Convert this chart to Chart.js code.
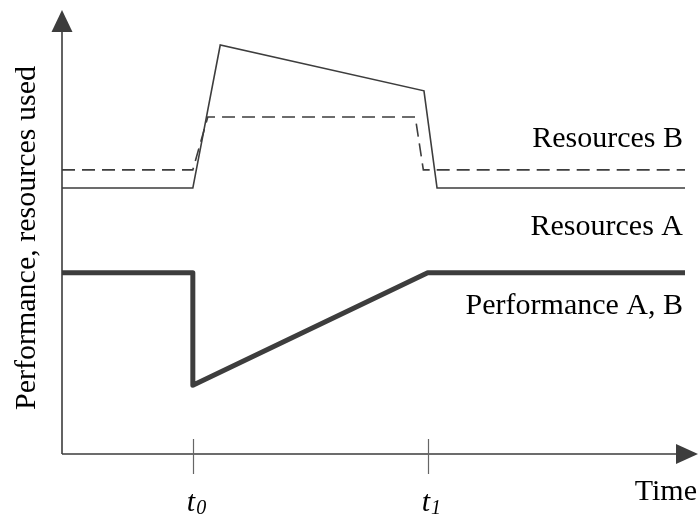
<!DOCTYPE html>
<html>
<head>
<meta charset="utf-8">
<script src="https://cdn.jsdelivr.net/npm/chart.js@4/dist/chart.umd.min.js"></script>
<style>
  html, body { margin: 0; padding: 0; background: #ffffff; }
  canvas { display: block; }
</style>
</head>
<body>
<canvas id="c" width="699" height="518"></canvas>
<script>
// ---- Data (arbitrary time units 0..100, value units 0..100) ----
const t0 = 21.0;
const t1 = 58.7;
const tickValues = [t0, t1];
const tickLabels = ["t", "t"];
const tickSubs = ["0", "1"];

const resA_x = [0, 21.0, 25.4, 58.1, 60.2, 100];
const resA_y = [59.9, 59.9, 92.1, 81.8, 59.9, 59.9];

const resB_x = [0, 21.0, 23.4, 56.7, 58.0, 100];
const resB_y = [64.0, 64.0, 75.9, 75.9, 64.0, 64.0];

const perf_x = [0, 21.0, 21.0, 58.7, 100];
const perf_y = [40.8, 40.8, 15.5, 40.8, 40.8];

const seriesLabels = ["Resources B", "Resources A", "Performance A, B"];
const labelAnchorY = [69.1, 49.3, 31.6]; // value units: baseline of each series caption
const yTitle = "Performance, resources used";
const xTitle = "Time";

const pts = (xs, ys) => xs.map((x, i) => ({ x: x, y: ys[i] }));
const INK = '#3d3d3d';
const FONT = '"Liberation Serif", "Times New Roman", serif';

const decor = {
  id: 'decor',
  afterDatasetsDraw(chart) {
    const { ctx, chartArea: ca, scales: { x, y } } = chart;
    const x0 = x.getPixelForValue(0);
    const yb = y.getPixelForValue(0);
    ctx.save();
    // axes
    ctx.strokeStyle = INK;
    ctx.fillStyle = INK;
    ctx.lineWidth = 1.6;
    ctx.beginPath();
    ctx.moveTo(x0, yb);
    ctx.lineTo(x0, ca.top + 20);
    ctx.moveTo(x0, yb);
    ctx.lineTo(ca.right + 0, yb);
    ctx.stroke();
    // y arrow
    ctx.beginPath();
    ctx.moveTo(x0, ca.top);
    ctx.lineTo(x0 - 10.5, ca.top + 22);
    ctx.lineTo(x0 + 10.5, ca.top + 22);
    ctx.closePath();
    ctx.fill();
    // x arrow
    ctx.beginPath();
    ctx.moveTo(ca.right + 13, yb);
    ctx.lineTo(ca.right - 9, yb - 10);
    ctx.lineTo(ca.right - 9, yb + 10);
    ctx.closePath();
    ctx.fill();
    // tick marks
    ctx.lineWidth = 1.2;
    ctx.strokeStyle = '#666';
    tickValues.forEach(v => {
      const px = Math.round(x.getPixelForValue(v)) + 0.5;
      ctx.beginPath();
      ctx.moveTo(px, yb - 15);
      ctx.lineTo(px, yb + 20);
      ctx.stroke();
    });
    // tick labels (italic t with subscript)
    ctx.fillStyle = '#000';
    ctx.textBaseline = 'alphabetic';
    tickValues.forEach((v, i) => {
      const px = x.getPixelForValue(v);
      ctx.font = 'italic 30px ' + FONT;
      ctx.textAlign = 'left';
      const w = ctx.measureText(tickLabels[i]).width;
      ctx.fillText(tickLabels[i], px - 6, yb + 57);
      ctx.font = 'italic 20px ' + FONT;
      ctx.fillText(tickSubs[i], px - 6 + w + 1, yb + 60);
    });
    // x title
    ctx.font = '30px ' + FONT;
    ctx.textAlign = 'right';
    ctx.fillText(xTitle, 697, yb + 46);
    // series captions
    seriesLabels.forEach((s, i) => {
      ctx.fillText(s, ca.right - 2, y.getPixelForValue(labelAnchorY[i]));
    });
    // y title
    ctx.save();
    ctx.translate(35, (ca.top + yb) / 2 + 6);
    ctx.rotate(-Math.PI / 2);
    ctx.textAlign = 'center';
    ctx.fillText(yTitle, 0, 0);
    ctx.restore();
    ctx.restore();
  }
};

new Chart(document.getElementById('c'), {
  type: 'line',
  data: {
    datasets: [
      { label: 'Resources B', data: pts(resB_x, resB_y), borderColor: INK, borderWidth: 1.6,
        borderDash: [13, 7], pointRadius: 0, tension: 0, fill: false },
      { label: 'Resources A', data: pts(resA_x, resA_y), borderColor: INK, borderWidth: 1.6,
        pointRadius: 0, tension: 0, fill: false },
      { label: 'Performance A, B', data: pts(perf_x, perf_y), borderColor: INK, borderWidth: 5,
        borderCapStyle: 'round', borderJoinStyle: 'round', pointRadius: 0, tension: 0, fill: false }
    ]
  },
  options: {
    responsive: false,
    devicePixelRatio: 1,
    animation: false,
    layout: { padding: { left: 62, right: 14, top: 10, bottom: 64 } },
    plugins: { legend: { display: false }, tooltip: { enabled: false } },
    scales: {
      x: { type: 'linear', min: 0, max: 100, display: false },
      y: { type: 'linear', min: 0, max: 100, display: false }
    }
  },
  plugins: [decor]
});
</script>
</body>
</html>
